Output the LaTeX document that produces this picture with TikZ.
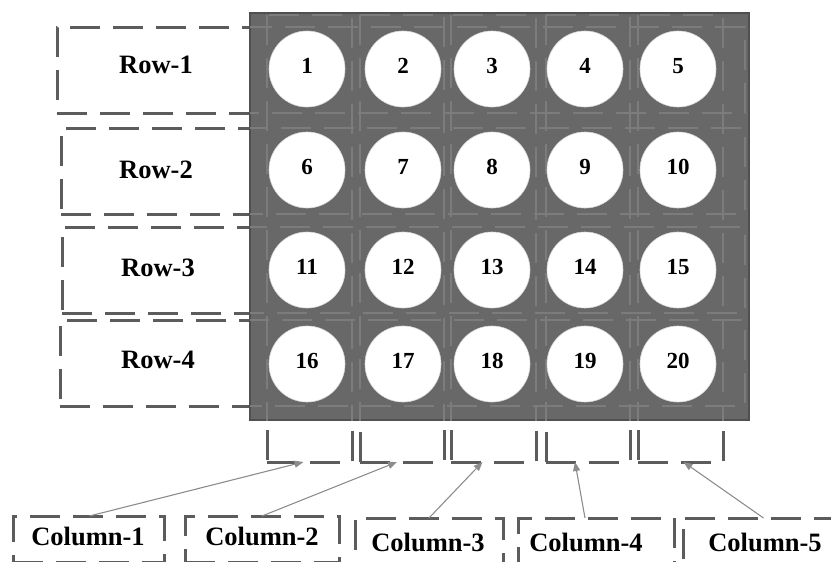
\documentclass[tikz,border=0pt]{standalone}
\usepackage{fontspec}
\setmainfont{Liberation Serif}
\usetikzlibrary{arrows.meta}
\definecolor{boxgray}{RGB}{92,92,92}
\definecolor{arrgray}{RGB}{140,140,140}
\definecolor{panelfill}{RGB}{104,104,104}
\definecolor{paneledge}{RGB}{80,80,80}
\definecolor{innergray}{RGB}{124,124,124}
\begin{document}
\begin{tikzpicture}[x=1pt,y=-1pt,
  dbox/.style={draw=boxgray, line width=3pt, dash pattern=on 30pt off 13pt,
    inner sep=0pt, outer sep=0pt, anchor=north west},
  inbox/.style={draw=innergray, line width=1.4pt, dash pattern=on 30pt off 13pt},
  lbl/.style={font=\bfseries\fontsize{26.5}{30}\selectfont, inner sep=0pt},
  num/.style={font=\bfseries\fontsize{23}{26}\selectfont, inner sep=0pt},
  well/.style={circle, fill=white, draw=white!85!black, line width=0.6pt,
    minimum size=76pt, inner sep=0pt},
  arr/.style={draw=arrgray, line width=1.1pt, -{Triangle[length=9pt,width=7pt]}},
  panelsty/.style={fill=panelfill, draw=paneledge, line width=1.5pt,
    inner sep=0pt, outer sep=0pt, anchor=north west}]
\useasboundingbox (0,0) rectangle (831,562);

% row boxes
\node[dbox, minimum width=688pt, minimum height=86pt] (rb1) at (57,27) {};
\node[dbox, minimum width=684pt, minimum height=86pt] (rb2) at (61,128) {};
\node[dbox, minimum width=683pt, minimum height=86pt] (rb3) at (62,227) {};
\node[dbox, minimum width=685pt, minimum height=86pt] (rb4) at (60,320) {};

% column boxes
\node[dbox, minimum width=85pt, minimum height=447pt] (c1) at (267,15) {};
\node[dbox, minimum width=84pt, minimum height=447pt] (c2) at (360,15) {};
\node[dbox, minimum width=85pt, minimum height=447pt] (c3) at (451,15) {};
\node[dbox, minimum width=84pt, minimum height=447pt] (c4) at (546,15) {};
\node[dbox, minimum width=85pt, minimum height=447pt] (c5) at (638,15) {};

% panel
\node[panelsty, minimum width=499pt, minimum height=407pt] (panel) at (250,13) {};
\begin{scope}
  \clip (panel.north west) rectangle (panel.south east);
  \foreach \n in {rb1,rb2,rb3,rb4,c1,c2,c3,c4,c5}
    \draw[inbox] (\n.north west) rectangle (\n.south east);
\end{scope}

% wells
\foreach \r/\y in {0/69,1/170,2/270,3/364}{
  \foreach \c/\x in {1/307,2/403,3/492,4/585,5/678}{
    \pgfmathtruncatemacro{\k}{\r*5+\c}
    \node[well] (w\k) at (\x,\y) {};
    \node[num] (t\k) at (\x,\y-3) {\k};
  }
}

% row labels
\node[lbl] (r1) at (156,65) {Row-1};
\node[lbl] (r2) at (156,170) {Row-2};
\node[lbl] (r3) at (158,268) {Row-3};
\node[lbl] (r4) at (158,360) {Row-4};

% column label boxes
\node[dbox, minimum width=151pt, minimum height=46pt] (l1) at (13,516) {};
\node[dbox, minimum width=154pt, minimum height=46pt] (l2) at (185,516) {};
\node[dbox, minimum width=148pt, minimum height=46pt] (l3) at (355,518) {};
\node[dbox, minimum width=156pt, minimum height=46pt] (l4) at (518,518) {};
\node[dbox, minimum width=165pt, minimum height=46pt] (l5) at (683,518) {};

\node[lbl] (k1) at (88,536) {Column-1};
\node[lbl] (k2) at (262,536) {Column-2};
\node[lbl] (k3) at (428,542) {Column-3};
\node[lbl] (k4) at (586,542) {Column-4};
\node[lbl] (k5) at (765,542) {Column-5};

% arrows
\draw[arr] ([xshift=1pt]l1.north) -- ([xshift=-6pt]c1.south);
\draw[arr] (l2.north) -- ([xshift=-5pt]c2.south);
\draw[arr] (l3.north) -- ([xshift=-11pt]c3.south);
\draw[arr] ([xshift=-11pt]l4.north) -- ([xshift=-13pt]c4.south);
\draw[arr] ([xshift=-2pt]l5.north) -- ([xshift=3pt]c5.south);
\end{tikzpicture}
\end{document}
